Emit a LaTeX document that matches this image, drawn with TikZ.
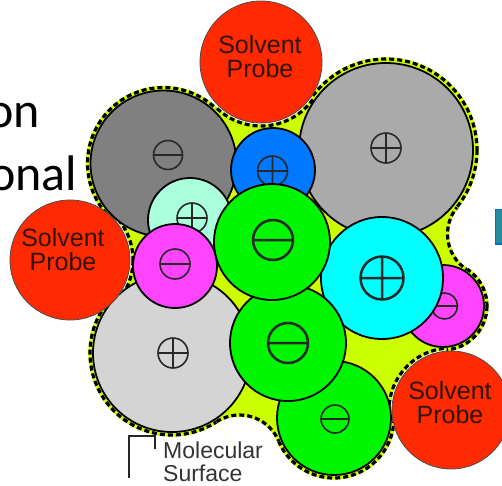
\documentclass[tikz,border=0pt]{standalone}
\usepackage{fontspec}
\setmainfont{Liberation Sans}
\newfontfamily\slidefont{Carlito}
\usetikzlibrary{positioning}
\definecolor{surfyellow}{RGB}{204,255,0}
\definecolor{probered}{RGB}{255,42,0}
\definecolor{probetext}{RGB}{51,17,0}
\definecolor{atomdark}{RGB}{128,128,128}
\definecolor{atomgray}{RGB}{170,170,170}
\definecolor{atomlight}{RGB}{212,212,212}
\definecolor{atomblue}{RGB}{0,120,255}
\definecolor{atommint}{RGB}{170,255,221}
\definecolor{atommagenta}{RGB}{255,68,255}
\definecolor{atomcyan}{RGB}{0,255,255}
\definecolor{atomgreen}{RGB}{0,245,0}
\definecolor{signgray}{RGB}{40,40,40}
\definecolor{slideblue}{RGB}{0,114,198}
\definecolor{slideteal}{RGB}{38,140,160}

% charge symbols: position, radius
\newcommand{\negsign}[3][sign]{\draw[#1] (#2) circle (#3) ++(-#3,0) -- ++(2*#3,0);}
\newcommand{\possign}[3][sign]{\draw[#1] (#2) circle (#3) ++(-#3,0) -- ++(2*#3,0) ++(-#3,-#3) -- ++(0,2*#3);}

\begin{document}
\begin{tikzpicture}[
  x=1pt, y=-1pt,
  atom/.style={draw=black, line width=1.8pt},
  probe/.style={fill=probered, draw=black!70, line width=0.8pt},
  surfline/.style={draw=black, line width=3.2pt, dash pattern=on 5pt off 3pt,
                   preaction={draw=surfyellow, line width=3.2pt}},
  sign/.style={draw=signgray, line width=1.6pt},
  bigsign/.style={draw=signgray, line width=2.5pt},
  probelabel/.style={font=\fontsize{25}{24}\selectfont, text=probetext, align=center, inner sep=0pt},
  legendtext/.style={font=\fontsize{23}{22}\selectfont, text=black!80, anchor=base west, inner sep=0pt},
  slidetext/.style={font=\slidefont\fontsize{50}{60}\selectfont, anchor=base west, inner sep=0pt},
]
  \useasboundingbox (0,0) rectangle (502,485);
  \clip (0,0) rectangle (502,485);

  % atom and probe centres
  \coordinate (dg) at (163.5,163.5);
  \coordinate (lgt) at (386,150);
  \coordinate (bl) at (273,170);
  \coordinate (mt) at (190,220);
  \coordinate (lgb) at (172,353);
  \coordinate (ml) at (175,266);
  \coordinate (mr) at (443,306);
  \coordinate (cy) at (382,278);
  \coordinate (g3) at (334,418);
  \coordinate (g2) at (288,343);
  \coordinate (g1) at (272,242);
  \coordinate (ptop) at (261,62);
  \coordinate (pleft) at (70,260);
  \coordinate (pbr) at (451,410);
  \coordinate (pright) at (490,234);
  \coordinate (pbot) at (239.5,457.5);

  % Molecular surface: convex part
  \foreach \c/\r in {dg/76, lgt/91, mr/44, g3/60, lgb/82}
    \draw[surfline, fill=surfyellow] (\c) circle (\r);
  \fill[surfyellow] (dg) -- (lgt) -- (mr) -- (g3) -- (lgb) -- cycle;

  % Molecular surface: re-entrant part
  \foreach \a/\b/\p/\r in {dg/lgt/ptop/64, lgt/mr/pright/42.5, mr/g3/pbr/62,
                           g3/lgb/pbot/42.5, lgb/dg/pleft/63}{
    \begin{scope}
      \clip (\a) -- (\b) -- (\p) -- cycle;
      \fill[surfyellow] (\a) -- (\b) -- (\p) -- cycle;
      \fill[white] (\p) circle (\r);
      \draw[surfline] (\p) circle (\r);
    \end{scope}
  }

  % Atoms
  \draw[atom, fill=atomdark] (dg) circle (73);
  \negsign{168,155}{14.5}
  \draw[atom, fill=atomgray] (lgt) circle (87);
  \possign{386,148}{15}
  \draw[atom, fill=atomblue] (bl) circle (42);
  \possign{272.5,171}{15}
  \draw[atom, fill=atommint] (mt) circle (42);
  \possign{192,218}{15}
  \draw[atom, fill=atomlight] (lgb) circle (79);
  \possign{173,353}{15}
  \draw[atom, fill=atommagenta] (ml) circle (42);
  \negsign{175,264}{15}
  \draw[atom, fill=atommagenta] (mr) circle (41);
  \negsign{444.5,306}{13}
  \draw[atom, fill=atomcyan] (cy) circle (61);
  \possign[bigsign]{382,278}{21.5}
  \draw[atom, fill=atomgreen] (g3) circle (57);
  \negsign{335,419}{14}
  \draw[atom, fill=atomgreen] (g2) circle (58);
  \negsign[bigsign]{288,343}{20}
  \draw[atom, fill=atomgreen] (g1) circle (58);
  \negsign[bigsign]{273,240}{20}

  % Solvent probes
  \draw[probe] (ptop) circle (61);
  \node[probelabel] (ptoptext) at (260,57) {Solvent\\Probe};
  \draw[probe] (pleft) circle (60);
  \node[probelabel] (plefttext) at (63,250) {Solvent\\Probe};
  \draw[probe] (pbr) circle (59);
  \node[probelabel] (pbrtext) at (450,403) {Solvent\\Probe};

  % Legend
  \coordinate (legtop) at (129,436);
  \draw[draw=black!85, line width=2pt] (129,478) -- (legtop) -- (155,436) -- (155,449);
  \node[legendtext] (surftext1) at (163,458) {Molecular};
  \node[legendtext] (surftext2) at (163,481) {Surface};

  % slide leftovers
  \node[slidetext] (wordon) at (-13,127) {on};
  \node[slidetext] (wordonal) at (-11,190) {onal};
  \draw[draw=slideblue, fill=slideteal, line width=1.5pt] (495.5,209.5) rectangle (510,244);
\end{tikzpicture}
\end{document}
